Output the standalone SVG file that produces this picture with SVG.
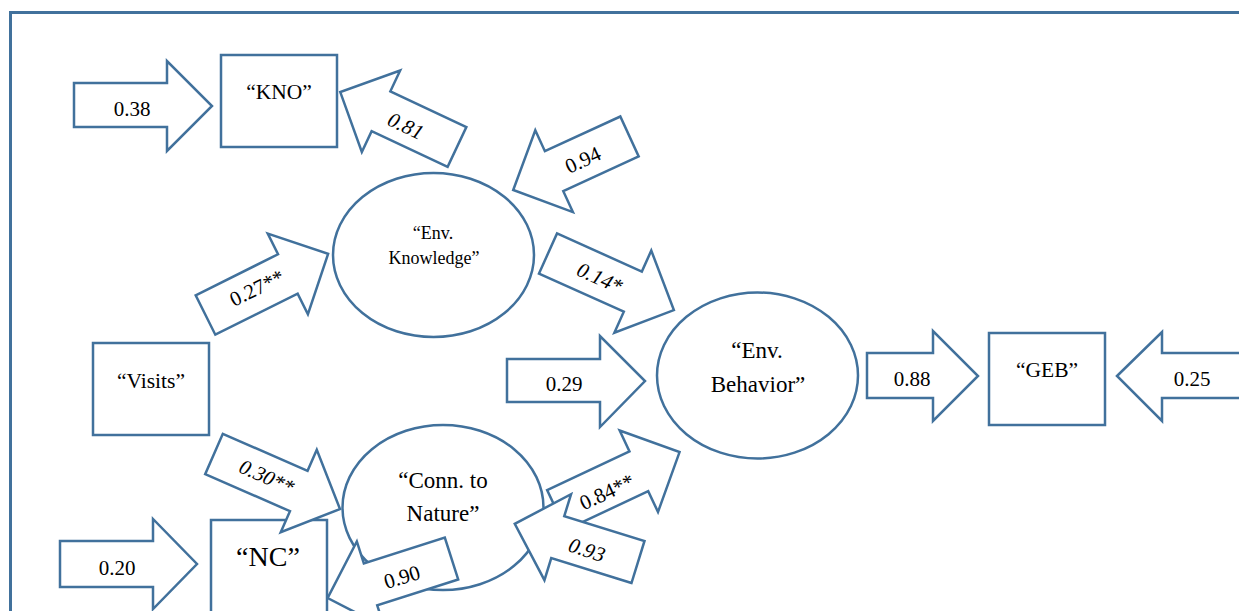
<svg xmlns="http://www.w3.org/2000/svg" width="1239" height="611" viewBox="0 0 1239 611" font-family="'Liberation Serif', 'Times New Roman', Times, 'DejaVu Serif', serif">
<style>
.shape{fill:#fff;stroke:#41719c;stroke-width:2.5;stroke-linejoin:miter}
.frame{fill:none;stroke:#41719c;stroke-width:3}
text{font-family:'Liberation Serif','Times New Roman',Times,'DejaVu Serif',serif;fill:#000;text-anchor:middle}
.lbl{font-size:21px}
.box{font-size:21.5px}
.ell{font-size:23px}
</style>
<rect width="1239" height="611" fill="#fff"/>
<path class="frame" d="M10.5,620 V12.5 H1250"/>
<g id="node-kno"><rect class="shape" x="221" y="55" width="116" height="92"/><text class="box" x="279" y="99">“KNO”</text></g>
<g id="node-visits"><rect class="shape" x="93" y="343" width="116" height="92"/><text class="box" x="151" y="388">“Visits”</text></g>
<g id="node-nc"><rect class="shape" x="211" y="520" width="116" height="110"/><text x="268" y="566" style="font-size:28px">“NC”</text></g>
<g id="node-geb"><rect class="shape" x="989" y="333" width="116" height="92"/><text class="box" x="1047" y="377">“GEB”</text></g>
<g id="node-envknow"><ellipse class="shape" cx="433.5" cy="255" rx="100.5" ry="82"/><text x="433" y="239" style="font-size:18px">“Env.</text><text x="434" y="264" style="font-size:18px">Knowledge”</text></g>
<g id="node-envbeh"><ellipse class="shape" cx="757.5" cy="375.5" rx="100.5" ry="83"/><text class="ell" x="757" y="358">“Env.</text><text class="ell" x="758" y="392">Behavior”</text></g>
<g id="node-conn"><ellipse class="shape" cx="443" cy="507.5" rx="100.5" ry="82.5"/><text class="ell" x="443" y="488">“Conn. to</text><text class="ell" x="443" y="521">Nature”</text></g>
<g id="connectors">
<g><polygon class="shape" points="74,83 167,83 167,61 212,106 167,151 167,127 74,127"/><text class="lbl" x="132" y="116">0.38</text></g>
<g><polygon class="shape" points="867,353 933,353 933,331 978,376 933,421 933,398 867,398"/><text class="lbl" x="912" y="386">0.88</text></g>
<g><polygon class="shape" points="1117,376 1162,332 1162,353 1250,353 1250,398 1162,398 1162,421"/><text class="lbl" x="1192" y="386">0.25</text></g>
<g><polygon class="shape" points="507,359 600,359 600,336 645,381 600,427 600,402 507,402"/><text class="lbl" x="564" y="391">0.29</text></g>
<g><polygon class="shape" points="60,541 153,541 153,519 197,564 153,609 153,587 60,587"/><text class="lbl" x="117" y="575">0.20</text></g>
<g><polygon class="shape" transform="translate(457,147) rotate(205.2)" points="0,-22 84,-22 84,-45 129,0 84,45 84,22 0,22"/><text class="lbl" transform="translate(406,126) rotate(25) skewX(-10)" y="7">0.81</text></g>
<g><polygon class="shape" transform="translate(629.5,136.5) rotate(155.3)" points="0,-22 83,-22 83,-45 128,0 83,45 83,22 0,22"/><text class="lbl" transform="translate(583,160) rotate(-25)" y="7">0.94</text></g>
<g><polygon class="shape" transform="translate(548,253.5) rotate(24.2)" points="0,-22 93,-22 93,-45 138,0 93,45 93,22 0,22"/><text class="lbl" transform="translate(600,278) rotate(24) skewX(-10)" y="7">0.14*</text></g>
<g><polygon class="shape" transform="translate(205.5,315) rotate(-26.5)" points="0,-22 92,-22 92,-45 137,0 92,45 92,22 0,22"/><text class="lbl" transform="translate(257,288) rotate(-26)" y="7">0.27**</text></g>
<g><polygon class="shape" transform="translate(214,454) rotate(23.6)" points="0,-22 92.5,-22 92.5,-45 137.5,0 92.5,45 92.5,22 0,22"/><text class="lbl" transform="translate(267,477) rotate(24) skewX(-10)" y="7">0.30**</text></g>
<g><polygon class="shape" transform="translate(556.5,510) rotate(-25.2)" points="0,-22 91,-22 91,-45 136,0 91,45 91,22 0,22"/><text class="lbl" transform="translate(607,492) rotate(-25)" y="7">0.84**</text></g>
<g><polygon class="shape" transform="translate(638,562) rotate(197.2)" points="0,-22 84,-22 84,-45 129,0 84,45 84,22 0,22"/><text class="lbl" transform="translate(587,550) rotate(18) skewX(-10)" y="7">0.93</text></g>
<g><polygon class="shape" transform="translate(451.5,558.5) rotate(162.3)" points="0,-22 85,-22 85,-45 130,0 85,45 85,22 0,22"/><text class="lbl" transform="translate(402,577) rotate(-17)" y="7">0.90</text></g>
</g>
</svg>
